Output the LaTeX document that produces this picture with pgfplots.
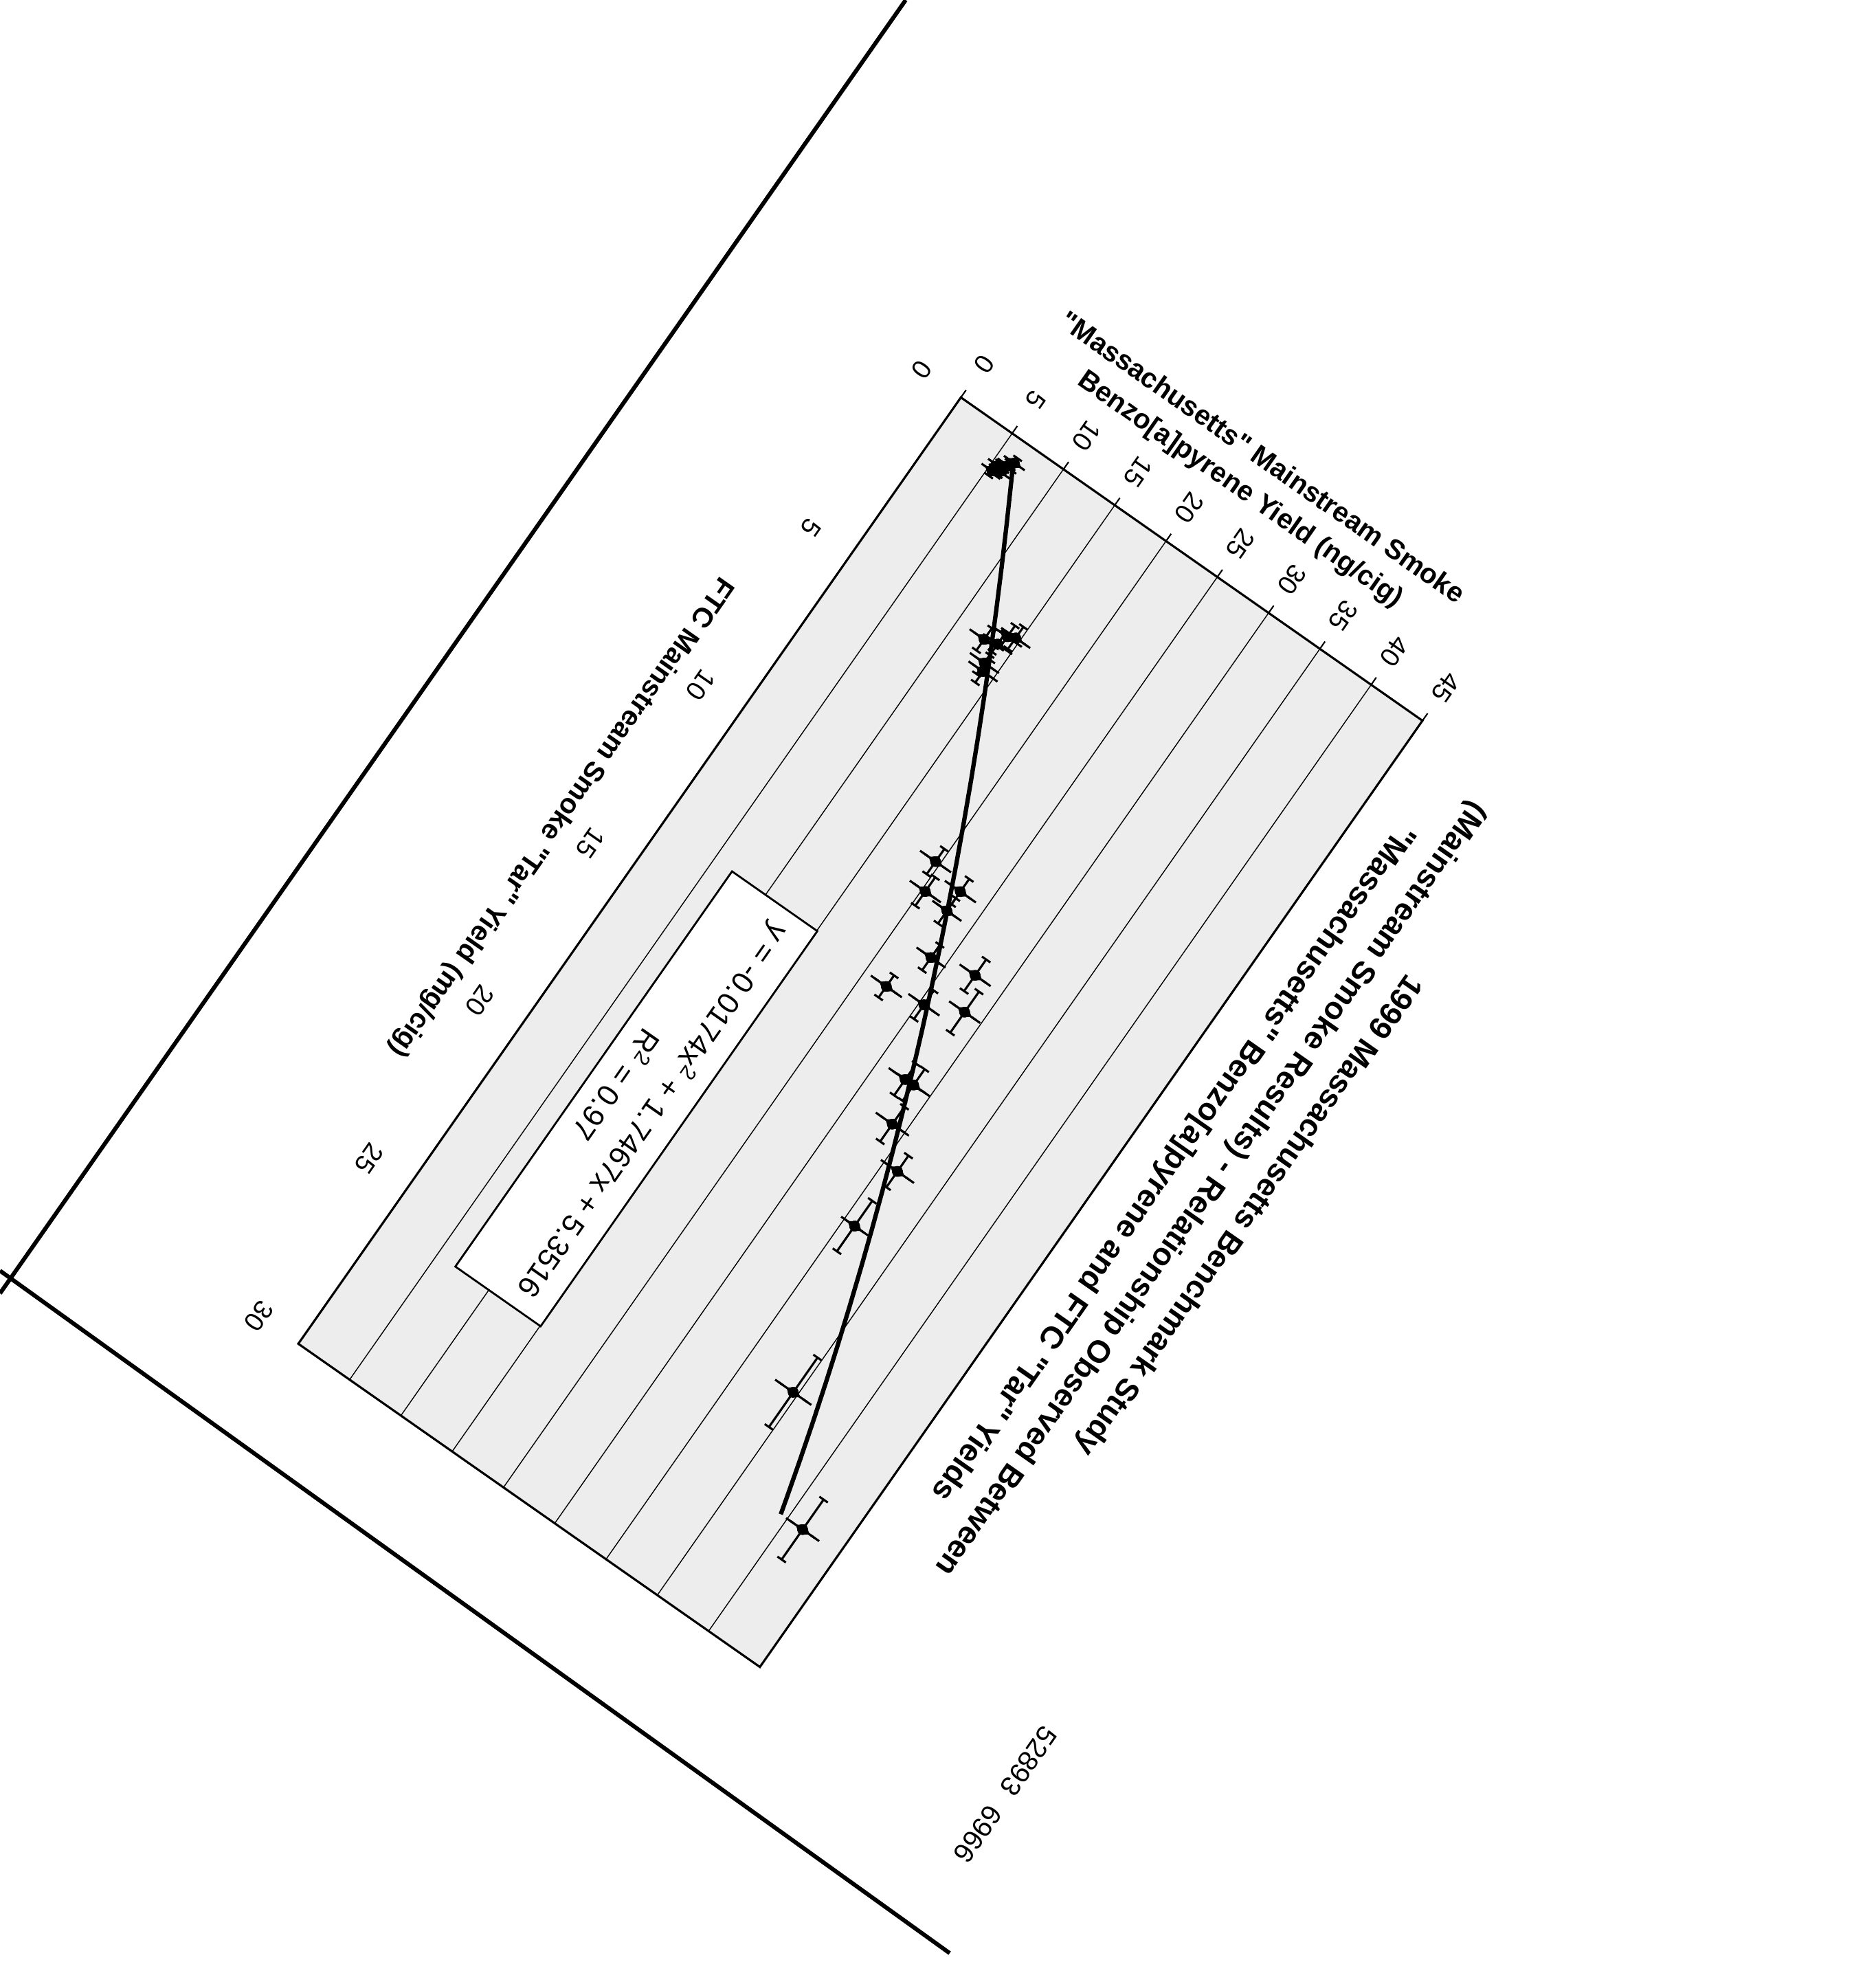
\documentclass[border=0pt]{standalone}
\usepackage{fontspec}
\setmainfont{Liberation Sans}[Ligatures=TeXOff]
\usepackage{pgfplots}
\pgfplotsset{compat=1.18}
\usepackage{pgfplotstable}

\pgfplotstableread{
x y ex ey
0.6 6.5 0.15 0.6
0.8 6.1 0.15 0.6
0.9 5.6 0.15 0.6
1.0 5.9 0.15 0.6
1.1 5.4 0.15 0.6
4.3 14.6 0.35 1.0
4.4 14.0 0.35 1.0
4.7 13.7 0.35 1.0
4.8 12.6 0.35 1.0
5.3 13.7 0.35 1.0
5.5 14.0 0.35 1.0
10.25 19.6 0.4 1.1
11.04 20.3 0.45 1.1
10.52 22.6 0.4 1.1
11.13 22.6 0.4 1.0
12.36 23.7 0.4 1.0
13.64 22.1 0.35 1.1
12.08 27.4 0.5 1.1
13.47 25.4 0.45 1.1
13.02 28.4 0.65 1.1
15.34 27.6 0.5 1.2
15.33 28.4 0.5 1.2
16.48 28.8 0.55 1.2
17.41 31.3 0.5 1.2
19.21 31.0 0.8 0.9
23.66 34.6 1.1 1.35
26.44 41.5 0.95 1.2
}\datatable

\pgfplotstableread{
x y
0.6 6.393
1 7.081
2 8.775
3 10.435
4 12.060
5 13.650
6 15.205
7 16.726
8 18.212
9 19.663
10 21.079
11 22.460
12 23.806
13 25.118
14 26.395
15 27.637
16 28.844
17 30.017
18 31.155
19 32.258
20 33.326
21 34.359
22 35.357
23 36.321
24 37.250
25 38.144
26 39.003
26.44 39.371
}\trendtable

\begin{document}
\begin{tikzpicture}
\path[use as bounding box] (0,0) rectangle (273mm,-286.8mm);
\draw[line width=0.6mm] (131.8mm,0) -- (0,-188.2mm);
\draw[line width=0.6mm] (0,-184.9mm) -- (138.2mm,-284.2mm);
\node[rotate=235, font=\fontsize{11.5}{13}\selectfont] at (146.3mm,-261.1mm) {52893\hspace{0.7em}6966};
\begin{scope}[transform canvas={shift={(139.83mm,-57.83mm)},rotate=235}]
\begin{axis}[
  at={(0,0)}, anchor=south west,
  scale only axis, width=168.1mm, height=82mm,
  xmin=0, xmax=30, ymin=0, ymax=45,
  xtick={0,5,...,30}, ytick={0,5,...,45},
  tick pos=left,
  tick align=outside, major tick length=1.3mm,
  tick style={black, line width=0.6pt},
  xtick style={draw=none},
  ymajorgrids, grid style={black, line width=0.4pt},
  axis background/.style={fill=black!7},
  axis line style={black, line width=0.9pt},
  clip=false,
  /pgf/number format/assume math mode=true,
  ticklabel style={font=\fontsize{11}{12}\selectfont},
  xticklabel style={anchor=center, yshift=-5.7mm},
  yticklabel style={anchor=center, xshift=-4.6mm},
]
\addplot[only marks, mark=none, black, forget plot,
  error bars/.cd, x dir=both, x explicit,
  error bar style={line width=0.9pt, black},
  error mark=|,
  error mark options={line width=0.9pt, mark size=0.75mm, black}]
  table[x=x, y=y, x error=ex]{\datatable};
\addplot[only marks, mark=none, black, forget plot,
  error bars/.cd, y dir=both, y explicit,
  error bar style={line width=0.9pt, black},
  error mark=-,
  error mark options={line width=0.9pt, mark size=0.75mm, black}]
  table[x=x, y=y, y error=ey]{\datatable};
\addplot[only marks, mark=diamond*, mark size=1.1mm, black] table[x=x, y=y]{\datatable};
\addplot[black, line width=1.8pt, no marks] table[x=x, y=y]{\trendtable};

\node[align=center, font=\bfseries\fontsize{13}{19}\selectfont] at (rel axis cs:0.437,1.167)
  {1999 Massachusetts Benchmark Study\\(Mainstream Smoke Results) - Relationship Observed Between\\"Massachusetts" Benzo[a]pyrene and FTC "Tar" Yields};
\node[rotate=90, align=center, font=\bfseries\fontsize{11.5}{15.5}\selectfont] at (rel axis cs:-0.0892,0.5)
  {"Massachusetts" Mainstream Smoke\\Benzo[a]pyrene Yield (ng/cig)};
\node[font=\bfseries\fontsize{11.5}{14}\selectfont] at (rel axis cs:0.4964,-0.155)
  {FTC Mainstream Smoke "Tar" Yield (mg/cig)};
\node[draw=black, line width=0.8pt, fill=white, minimum width=70.2mm, minimum height=15.15mm,
  align=center, inner sep=0pt, font=\fontsize{12.5}{19}\selectfont] at (rel axis cs:0.6585,0.2421)
  {y = -0.0174x\textsuperscript{2} + 1.7467x + 5.3516\\R\textsuperscript{2} = 0.97};
\end{axis}
\end{scope}
\end{tikzpicture}
\end{document}
